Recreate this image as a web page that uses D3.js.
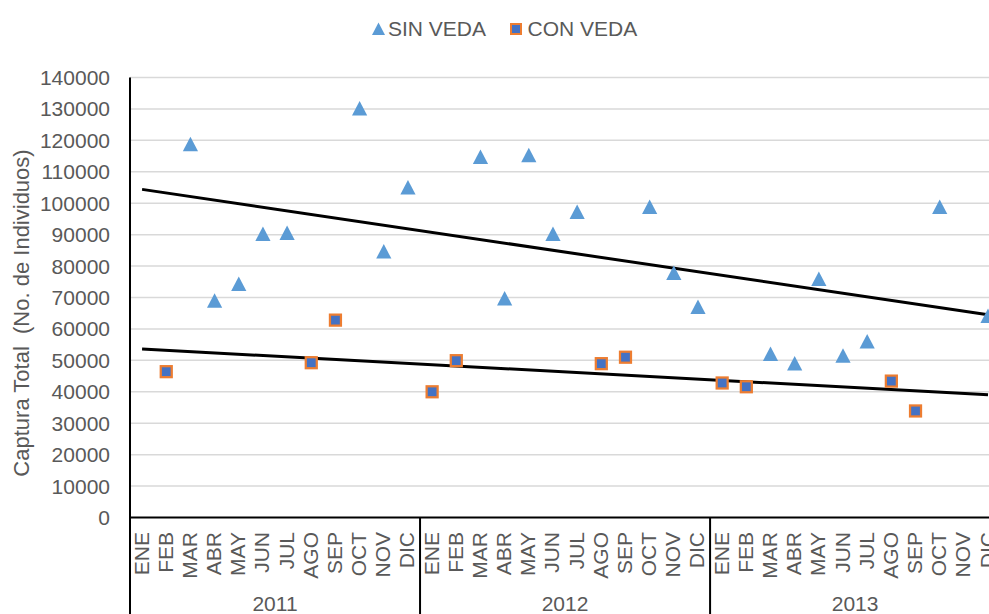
<!DOCTYPE html>
<html lang="es">
<head>
<meta charset="UTF-8">
<title>Captura total</title>
<script src="https://d3js.org/d3.v7.min.js"></script>
<style>
  body { margin: 0; background: #fff; }
  svg { display: block; font-family: "Liberation Sans", Arial, sans-serif; }
</style>
</head>
<body>
<svg id="chart" width="989" height="614"></svg>
<script>
// datos
const years = ["2011", "2012", "2013"];
const months = ["ENE", "FEB", "MAR", "ABR", "MAY", "JUN", "JUL", "AGO", "SEP", "OCT", "NOV", "DIC"];
const yTicks = [0, 10000, 20000, 30000, 40000, 50000, 60000, 70000, 80000, 90000, 100000, 110000, 120000, 130000, 140000];

// SIN VEDA, 36 meses (null = sin dato)
const sinVeda = [
  null, null, 118800, 69000, 74300, 90200, 90500, null, null, 130100, 84600, 105000,
  null, null, 114700, 69700, 115300, 90200, 97200, null, null, 98800, 77800, 67000,
  null, null, 52000, 49000, 75900, 51500, 56000, null, null, 98800, null, 64100
];
// CON VEDA
const conVeda = [
  null, 46400, null, null, null, null, null, 49250, 62800, null, null, null,
  40000, 49900, null, null, null, null, null, 48950, 51000, null, null, null,
  42800, 41600, null, null, null, null, null, 43400, 33900, null, null, null
];
// lineas de tendencia (ENE 2011 -> DIC 2013)
const trendSin = [104400, 64500];
const trendCon = [53600, 39050];

const grey = "#595959";
const svg = d3.select("#chart");

const cats = [];
years.forEach(y => months.forEach(m => cats.push(y + "-" + m)));

const x = d3.scaleBand().domain(cats).range([130, 130 + 36 * 24.17]).paddingInner(0);
const y = d3.scaleLinear().domain([0, 140000]).range([517.5, 77.5]);
const cx = i => x(cats[i]) + x.bandwidth() / 2;

// lineas de cuadricula
svg.append("g").selectAll("line")
  .data(yTicks.filter(d => d > 0))
  .join("line")
  .attr("x1", 130).attr("x2", 989)
  .attr("y1", d => y(d)).attr("y2", d => y(d))
  .attr("stroke", "#D9D9D9").attr("stroke-width", 1.5);

// etiquetas eje y
svg.append("g").selectAll("text")
  .data(yTicks)
  .join("text")
  .attr("x", 110).attr("y", d => y(d))
  .attr("text-anchor", "end").attr("dominant-baseline", "central")
  .attr("font-size", 21).attr("fill", grey)
  .text(d => d);

// titulo eje y
svg.append("text")
  .attr("transform", "translate(29,313) rotate(-90)")
  .attr("text-anchor", "middle")
  .attr("font-size", 22).attr("fill", grey)
  .attr("xml:space", "preserve")
  .text("Captura Total  (No. de Individuos)");

// etiquetas de meses
svg.append("g").selectAll("text")
  .data(cats)
  .join("text")
  .attr("transform", (d, i) => `translate(${cx(i) - 1},532) rotate(-90)`)
  .attr("text-anchor", "end").attr("dominant-baseline", "central")
  .attr("font-size", 21).attr("fill", grey)
  .text(d => d.split("-")[1]);

// etiquetas de anios
svg.append("g").selectAll("text")
  .data(years)
  .join("text")
  .attr("x", (d, i) => (x(cats[i * 12]) + x(cats[i * 12 + 11]) + x.bandwidth()) / 2)
  .attr("y", 611)
  .attr("text-anchor", "middle")
  .attr("font-size", 21).attr("fill", grey)
  .text(d => d);

// separadores de anio
svg.append("g").selectAll("line")
  .data([12, 24])
  .join("line")
  .attr("x1", d => x(cats[d])).attr("x2", d => x(cats[d]))
  .attr("y1", y(0)).attr("y2", 614)
  .attr("stroke", "#000").attr("stroke-width", 2);

// ejes
svg.append("line")
  .attr("x1", 130).attr("x2", 130).attr("y1", y(140000)).attr("y2", 614)
  .attr("stroke", "#000").attr("stroke-width", 2);
svg.append("line")
  .attr("x1", 130).attr("x2", 989).attr("y1", y(0)).attr("y2", y(0))
  .attr("stroke", "#000").attr("stroke-width", 2);

// tendencias
const line = d3.line().x(d => d[0]).y(d => y(d[1]));
[trendSin, trendCon].forEach(t => {
  svg.append("path")
    .attr("d", line([[cx(0), t[0]], [cx(35), t[1]]]))
    .attr("fill", "none").attr("stroke", "#000").attr("stroke-width", 3);
});

const triPath = "M0,-7.5L7.6,7L-7.6,7Z";

// SIN VEDA
svg.append("g").selectAll("path")
  .data(sinVeda.map((v, i) => ({ v, i })).filter(d => d.v !== null))
  .join("path")
  .attr("transform", d => `translate(${cx(d.i)},${y(d.v)})`)
  .attr("d", triPath)
  .attr("fill", "#5B9BD5");

// CON VEDA
svg.append("g").selectAll("rect")
  .data(conVeda.map((v, i) => ({ v, i })).filter(d => d.v !== null))
  .join("rect")
  .attr("x", d => cx(d.i) - 5.5).attr("y", d => y(d.v) - 5.5)
  .attr("width", 11).attr("height", 11)
  .attr("fill", "#4472C4").attr("stroke", "#ED7D31").attr("stroke-width", 2.25);

// leyenda
const lg = svg.append("g");
lg.append("path").attr("transform", "translate(378.5,29)").attr("d", "M0,-6.5L6.5,6L-6.5,6Z").attr("fill", "#5B9BD5");
lg.append("text").attr("x", 388).attr("y", 36).attr("font-size", 21).attr("fill", grey).text("SIN VEDA");
lg.append("rect").attr("x", 511).attr("y", 24).attr("width", 10).attr("height", 10)
  .attr("fill", "#4472C4").attr("stroke", "#ED7D31").attr("stroke-width", 2);
lg.append("text").attr("x", 527.5).attr("y", 36).attr("font-size", 21).attr("fill", grey).text("CON VEDA");
</script>
</body>
</html>
